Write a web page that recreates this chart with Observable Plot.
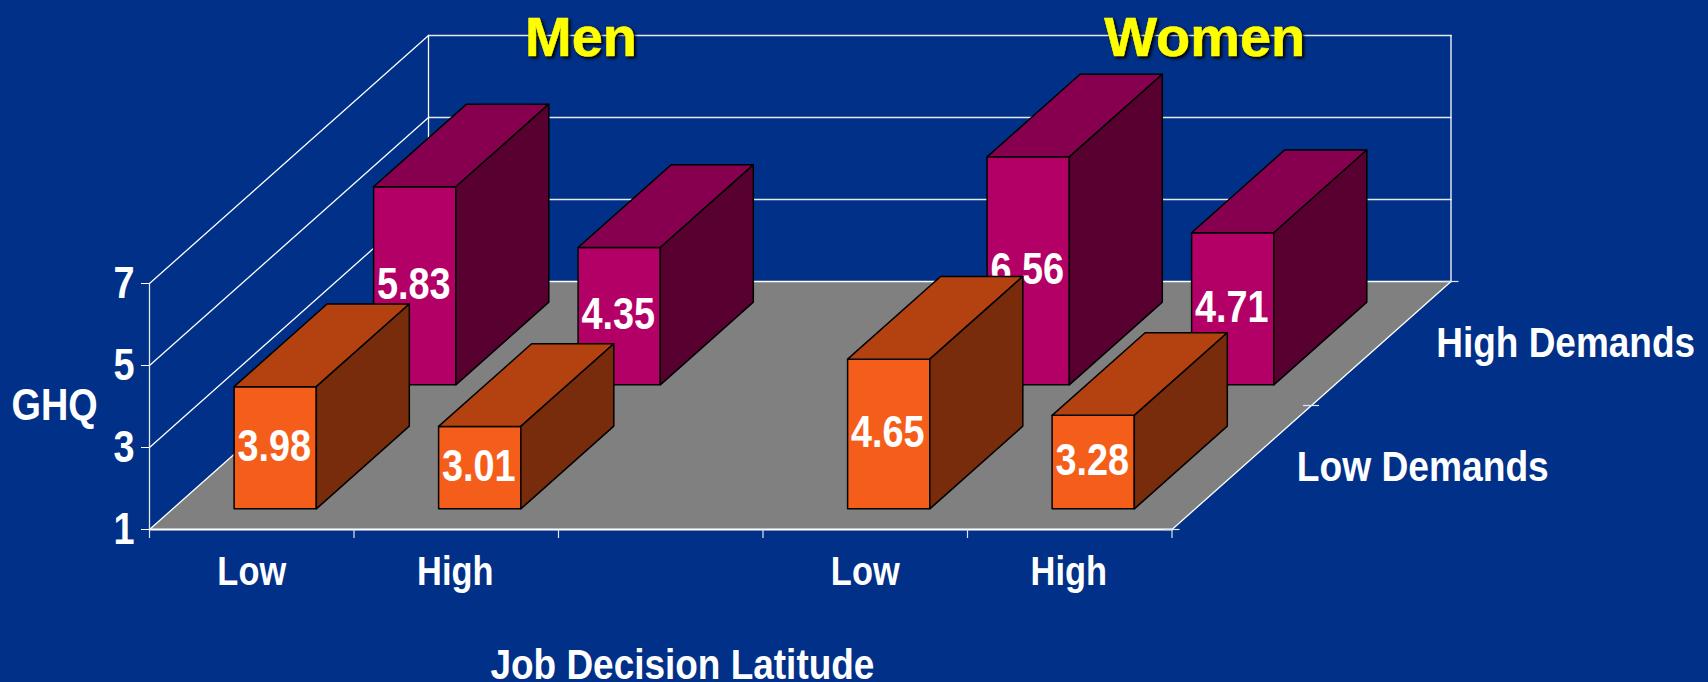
<!DOCTYPE html>
<html>
<head>
<meta charset="utf-8">
<script src="https://cdn.jsdelivr.net/npm/d3@7"></script>
<script src="https://cdn.jsdelivr.net/npm/@observablehq/plot@0.6"></script>
<style>
html,body{margin:0;padding:0;background:#003087;overflow:hidden}
svg{display:block}
</style>
</head>
<body>
<div id="chart"></div>
<script>
// Data
const latitudeLabels = ["Low", "High", "Low", "High"];
const slots = [0, 1, 3, 4];
const lowDemands = [3.98, 3.01, 4.65, 3.28];
const highDemands = [5.83, 4.35, 6.56, 4.71];
const valueTicks = [1, 3, 5, 7];
const demandLabels = ["Low Demands", "High Demands"];
const groupTitles = ["Men", "Women"];

// Oblique 3-D: one depth row shifts a point by this much in slot / value units
const skewX = 139.5 / 204.5;
const skewY = 124 / 41;
const P = (slot, depth, value) => ({x: slot + depth * skewX, y: value + depth * skewY});
const seg = (a, b) => [P(...a), P(...b)];

const font = "Liberation Sans, Arial, sans-serif";
const white = "#ffffff";
const gridW = 1.3;
const line = (pts, o = {}) => Plot.line(pts, {x: "x", y: "y", stroke: white, strokeWidth: gridW, ...o});

const marks = [];

// floor
marks.push(line([P(0,0,1), P(5,0,1), P(5,2,1), P(0,2,1)], {fill: "#808080", stroke: "none", curve: "linear-closed"}));

// walls and gridlines
for (const v of valueTicks) {
  marks.push(line(seg([0,2,v],[5,2,v]), {strokeWidth: v === 1 ? 1.6 : gridW, stroke: v === 1 ? white : "#e4e9f2"}));
  marks.push(line(seg([0,0,v],[0,2,v])));
  marks.push(Plot.ruleY([v], {x1: -8/204.5, x2: 0, stroke: white, strokeWidth: 1}));
}
marks.push(line(seg([0,0,1],[0,0,7]), {stroke: "#e4e9f2"}));
marks.push(line(seg([0,2,1],[0,2,7])));
marks.push(line(seg([5,2,1],[5,2,7])));
marks.push(line(seg([5,0,1],[5,2,1])));
marks.push(line(seg([0,0,1],[5,0,1]), {strokeWidth: 1.8}));
// axis ticks
marks.push(Plot.ruleX([0,1,2,3,4,5], {y1: 1, y2: 1 - 9/41, stroke: "#dfe4ee", strokeWidth: 1.2}));
for (const d of [0,1,2]) {
  const c = P(5,d,1);
  marks.push(Plot.ruleY([c.y], {x1: c.x - 8/204.5, x2: c.x + 8/204.5, stroke: "#dfe4ee", strokeWidth: 1.2}));
}

// bars, back row first so that the front row hides it
const barLeft = 0.3, barRight = 0.702, depthIn = 1/6, depthOut = 5/6;
const palette = [
  {front: "#F55E1A", top: "#B44211", side: "#782C0C"},
  {front: "#B30066", top: "#87004F", side: "#580030"}
];
const rows = [{row: 1, values: highDemands}, {row: 0, values: lowDemands}];
for (const {row, values} of rows) {
  const c = palette[row];
  values.forEach((v, i) => {
    const x0 = slots[i] + barLeft, x1 = slots[i] + barRight;
    const d0 = row + depthIn, d1 = row + depthOut;
    const face = {stroke: "#000", strokeWidth: 1.5, strokeLinejoin: "round", curve: "linear-closed"};
    marks.push(line([P(x0,d0,1),P(x1,d0,1),P(x1,d0,v),P(x0,d0,v)], {...face, fill: c.front}));
    marks.push(line([P(x0,d0,v),P(x1,d0,v),P(x1,d1,v),P(x0,d1,v)], {...face, fill: c.top}));
    marks.push(line([P(x1,d0,1),P(x1,d1,1),P(x1,d1,v),P(x1,d0,v)], {...face, fill: c.side}));
    const mid = P((x0 + x1) / 2, d0, (1 + v) / 2);
    marks.push(Plot.text([v.toFixed(2)], {x: () => mid.x, y: () => mid.y, text: d => d, dx: -1, dy: -1,
      fill: white, fontSize: 44, fontWeight: "bold", fontFamily: font, textAnchor: "middle", lineAnchor: "middle"}));
  });
}

// text
const label = (t, x, y, o = {}) => Plot.text([t], {x: () => x, y: () => y, text: d => d, fill: white,
  fontSize: 40, fontWeight: "bold", fontFamily: font, ...o});
for (const v of valueTicks)
  marks.push(label(String(v), 0, v, {fontSize: 44, textAnchor: "end", lineAnchor: "middle", dx: -15}));
slots.forEach((s, i) => marks.push(label(latitudeLabels[i], s + 0.5, 1, {textAnchor: "middle", lineAnchor: "bottom", dy: 55, dx: i % 2 ? -1 : 0})));
marks.push(label("GHQ", 0, 3, {fontSize: 44, textAnchor: "start", lineAnchor: "middle", dx: -138, dy: -42}));
marks.push(label("Job Decision Latitude", 2.606, 1, {fontSize: 42, textAnchor: "middle", lineAnchor: "bottom", dy: 149}));
const dPos = [P(5,0.5,1), P(5,1.5,1)];
demandLabels.forEach((t, i) => marks.push(label(t, dPos[i].x, dPos[i].y, {fontSize: 43, textAnchor: "start", lineAnchor: "bottom", dx: 55, dy: 13})));
const titleX = [2.11, 5.16];
groupTitles.forEach((t, i) => marks.push(label(t, titleX[i], 7 + 2 * skewY, {fontSize: 56, fill: "#FFFF00", stroke: "#FFFF00", strokeWidth: 0.6,
  textAnchor: "middle", lineAnchor: "bottom", dy: 20, imageFilter: "drop-shadow(2px 2px 1.5px #000)"})));

const chart = Plot.plot({
  width: 1708, height: 682, margin: 0,
  style: {background: "#003087", fontFamily: font},
  x: {axis: null, domain: [0, 5], range: [149, 1171.5]},
  y: {axis: null, domain: [1, 7], range: [529, 283]},
  marks
});
document.getElementById("chart").append(chart);

// The source text is narrower than the font: condense the glyphs, keeping them real text
chart.querySelectorAll("text").forEach(t => {
  const s = t.textContent;
  if (groupTitles.includes(s)) return;
  const f = s.startsWith("Job") ? 0.88 : s === "Low Demands" ? 0.865 : 0.86;
  const tr = t.getAttribute("transform") || "";
  t.setAttribute("transform", `${tr} scale(${f},1)`);
});
</script>
</body>
</html>
